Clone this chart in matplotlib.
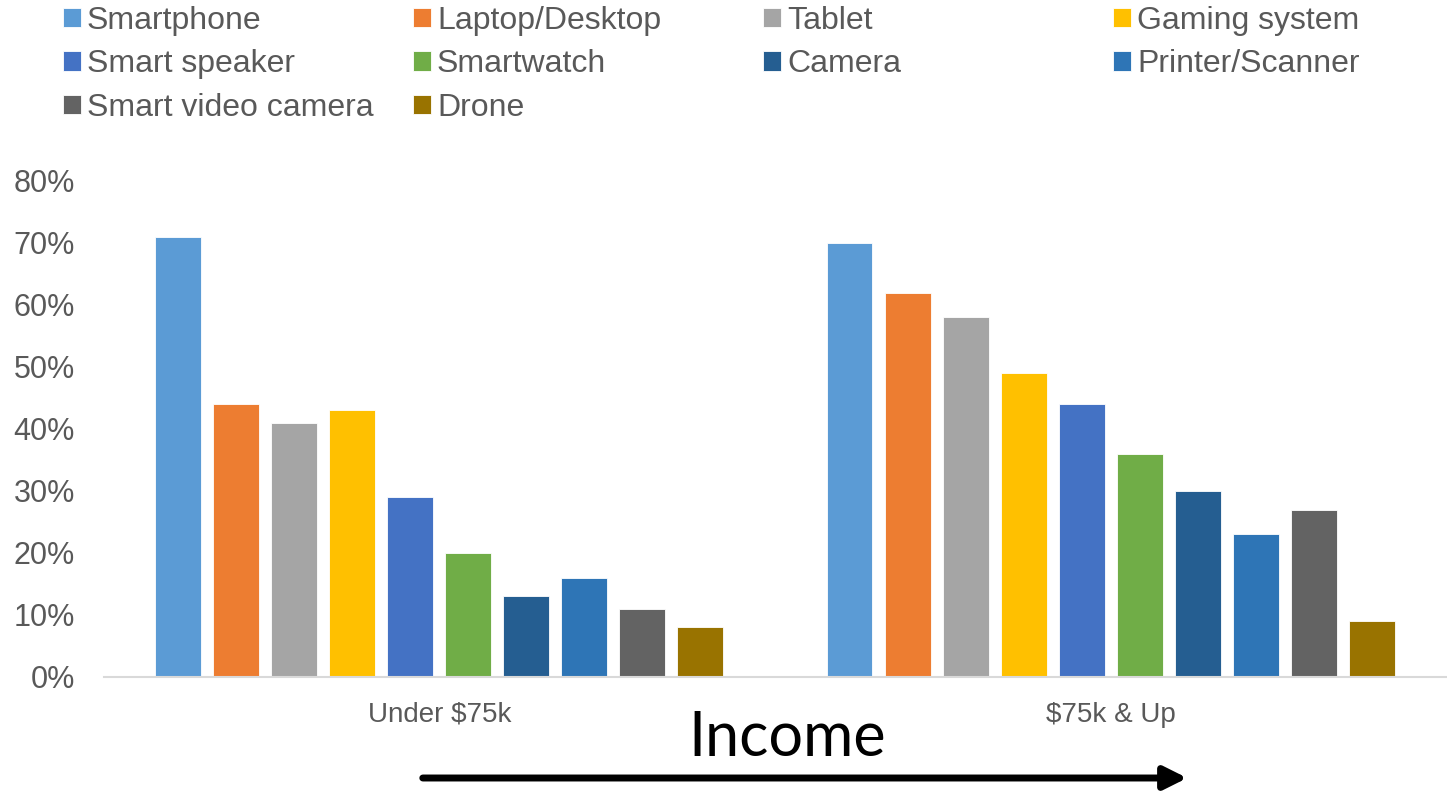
import numpy as np
import matplotlib.pyplot as plt
from matplotlib.patches import FancyArrowPatch

plt.rcParams['font.family'] = ['Liberation Sans', 'DejaVu Sans']

groups = ['Under $75k', '$75k & Up']
devices = ['Smartphone', 'Laptop/Desktop', 'Tablet', 'Gaming system',
           'Smart speaker', 'Smartwatch', 'Camera', 'Printer/Scanner',
           'Smart video camera', 'Drone']
under_75k = [0.71, 0.44, 0.41, 0.43, 0.29, 0.20, 0.13, 0.16, 0.11, 0.08]
over_75k = [0.70, 0.62, 0.58, 0.49, 0.44, 0.36, 0.30, 0.23, 0.27, 0.09]
colors = ['#5B9BD5', '#ED7D31', '#A5A5A5', '#FFC000', '#4472C4',
          '#70AD47', '#255E91', '#2E75B6', '#636363', '#997300']

text_gray = '#595959'

fig = plt.figure(figsize=(14.47, 7.91), dpi=100)
ax = fig.add_axes([104 / 1447, (791 - 677) / 791, 1 - 104 / 1447, (677 - 181) / 791])

x = np.arange(len(groups))
pitch = 0.0864
width = 0.0685
handles = []
for i, dev in enumerate(devices):
    vals = [under_75k[i], over_75k[i]]
    b = ax.bar(x + (i - 4.5) * pitch - 0.001, vals, width, color=colors[i],
               edgecolor='white', linewidth=0.6, label=dev)
    handles.append(b)

ax.set_xlim(-0.5, 1.5)
ax.set_ylim(0, 0.8)
ax.set_yticks(np.arange(0, 0.81, 0.1))
ax.set_yticklabels([f'{int(round(v * 100))}%' for v in np.arange(0, 0.81, 0.1)])
ax.set_xticks(x)
ax.set_xticklabels(groups)
ax.tick_params(axis='y', length=0, pad=21, labelsize=22, labelcolor=text_gray)
ax.tick_params(axis='x', length=0, pad=18, labelsize=20, labelcolor=text_gray)
for s in ['top', 'right', 'left']:
    ax.spines[s].set_visible(False)
ax.spines['bottom'].set_color('#D9D9D9')
ax.spines['bottom'].set_linewidth(1.5)

# legend: 4 evenly spaced columns, filled row by row
col_x = [63, 413, 763, 1113]
for c in range(4):
    idx = [k for k in (c, c + 4, c + 8) if k < len(devices)]
    fig.legend([handles[k] for k in idx], [devices[k] for k in idx],
               loc='upper left', bbox_to_anchor=(col_x[c] / 1447, 1.0 - 6 / 791),
               frameon=False, fontsize=23, labelcolor=text_gray,
               handlelength=0.55, handleheight=0.55, handletextpad=0.2,
               labelspacing=0.42, borderpad=0.0, borderaxespad=0.0)

fig.text(787 / 1447, 1 - 738 / 791, 'Income', fontsize=44, family='Lato',
         ha='center', va='center', color='black')
arrow = FancyArrowPatch((420 / 1447, 1 - 778 / 791), (1190 / 1447, 1 - 778 / 791),
                        transform=fig.transFigure, arrowstyle='-|>',
                        mutation_scale=34, linewidth=5, color='black')
fig.patches.append(arrow)

fig.savefig('out.png', dpi=100)
